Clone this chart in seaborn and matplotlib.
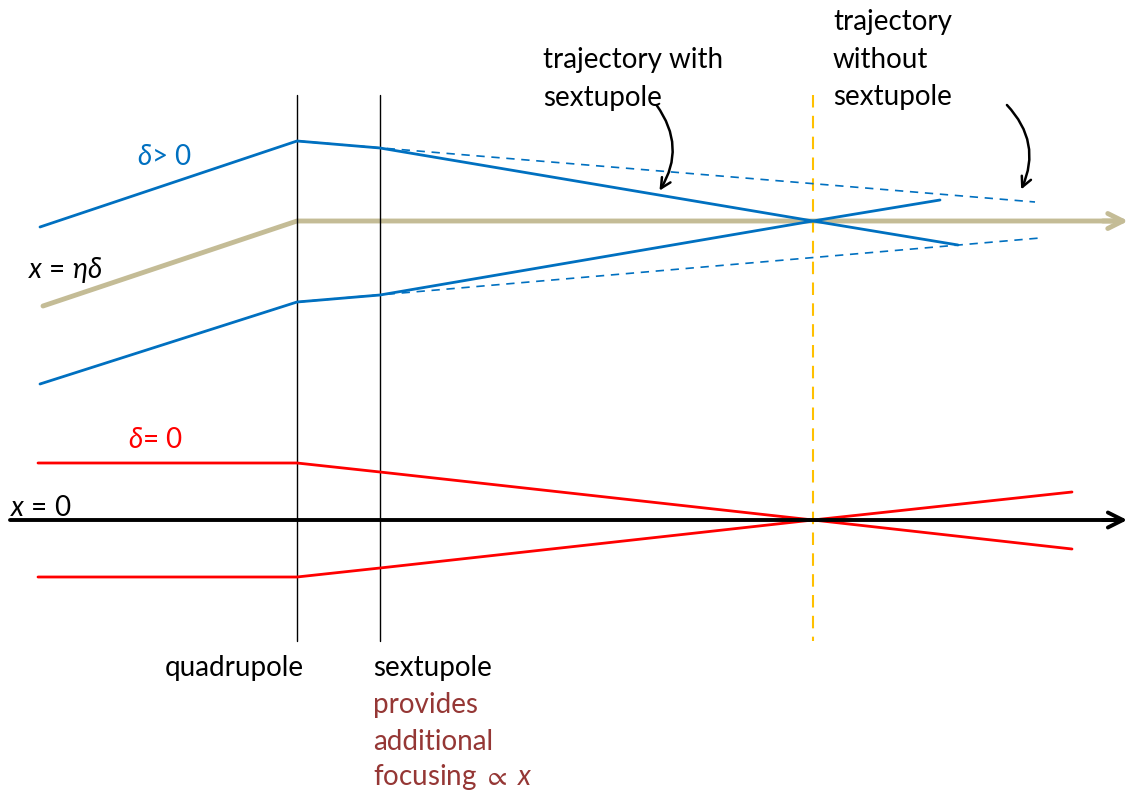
import matplotlib
matplotlib.use("Agg")
import matplotlib.pyplot as plt
import seaborn as sns
import pandas as pd

sns.set_theme(style="white")
plt.rcParams['font.family'] = ['Lato', 'DejaVu Sans']
plt.rcParams['mathtext.fontset'] = 'custom'
plt.rcParams['mathtext.it'] = 'Lato:italic'
plt.rcParams['mathtext.rm'] = 'Lato'
plt.rcParams['mathtext.fallback'] = 'stix'

W, H = 1132, 791

# element positions along beam (pixel-like diagram units)
quad_x = 297
sext_x = 380
focus_x = 813

# trajectories: (x points, y points)
blue_up_x = [40, 297, 380, 813, 958]
blue_up_y = [227, 141, 148, 221, 245]
blue_lo_x = [40, 297, 380, 813, 940]
blue_lo_y = [384, 302, 295, 221, 200]
blue_up_dash_x = [297, 1035]
blue_up_dash_y = [141, 202]
blue_lo_dash_x = [297, 1040]
blue_lo_dash_y = [302, 238]
tan_x = [43, 297, 1122]
tan_y = [306, 221, 221]
red_up_x = [38, 297, 380, 813, 1072]
red_up_y = [463, 463, 472, 520, 549]
red_lo_x = [38, 297, 380, 813, 1072]
red_lo_y = [577, 577, 568, 520, 492]
axis_x = [10, 1122]
axis_y = [520, 520]

BLUE = "#0070C0"
RED = "#FF0000"
TAN = "#C4BC96"
YEL = "#FFC000"
DRED = "#953735"

fig = plt.figure(figsize=(W / 100, H / 100), dpi=100)
ax = fig.add_axes([0, 0, 1, 1])
ax.set_xlim(0, W)
ax.set_ylim(H, 0)
ax.axis("off")

def seg(xs, ys, color, lw, ls="-", z=2):
    df = pd.DataFrame({"x": xs, "y": ys})
    sns.lineplot(data=df, x="x", y="y", sort=False, estimator=None, color=color,
                 linewidth=lw, linestyle=ls, ax=ax, zorder=z)

# vertical element lines
seg([quad_x, quad_x], [95, 641], "black", 1.0)
seg([sext_x, sext_x], [95, 641], "black", 1.0)
seg([focus_x, focus_x], [95, 641], YEL, 1.5, (0, (6, 4)))

# axis and tan line
seg(axis_x, axis_y, "black", 2.8, z=3)
seg(tan_x, tan_y, TAN, 3.5, z=1)
ax.annotate("", xy=(1130, 520), xytext=(1100, 520),
            arrowprops=dict(arrowstyle="->,head_length=0.9,head_width=0.45", color="black", lw=2.8))
ax.annotate("", xy=(1131, 221), xytext=(1100, 221),
            arrowprops=dict(arrowstyle="->,head_length=0.9,head_width=0.45", color=TAN, lw=3.5))

# blue trajectories
seg(blue_up_dash_x, blue_up_dash_y, BLUE, 1.2, (0, (5, 4)), z=3)
seg(blue_lo_dash_x, blue_lo_dash_y, BLUE, 1.2, (0, (5, 4)), z=3)
seg(blue_up_x, blue_up_y, BLUE, 2.0)
seg(blue_lo_x, blue_lo_y, BLUE, 2.0)

# red trajectories
seg(red_up_x, red_up_y, RED, 2.0)
seg(red_lo_x, red_lo_y, RED, 2.0)

fs = 20
ax.text(137, 157, r"$\delta$> 0", color=BLUE, fontsize=fs, va="center", ha="left")
ax.text(28, 270, r"$x$ = $\eta\delta$", color="black", fontsize=fs, va="center", ha="left")
ax.text(128, 440, r"$\delta$= 0", color=RED, fontsize=fs, va="center", ha="left")
ax.text(10, 508, r"$x$ = 0", color="black", fontsize=fs, va="center", ha="left")
ax.text(165, 668, "quadrupole", color="black", fontsize=fs, va="center", ha="left")
ax.text(373, 668, "sextupole", color="black", fontsize=fs, va="center", ha="left")
ax.text(373, 705, "provides", color=DRED, fontsize=fs, va="center", ha="left")
ax.text(373, 742, "additional", color=DRED, fontsize=fs, va="center", ha="left")
ax.text(373, 777, r"focusing $\propto$ $x$", color=DRED, fontsize=fs, va="center", ha="left")
ax.text(543, 60, "trajectory with", color="black", fontsize=fs, va="center", ha="left")
ax.text(543, 98, "sextupole", color="black", fontsize=fs, va="center", ha="left")
ax.text(833, 22, "trajectory", color="black", fontsize=fs, va="center", ha="left")
ax.text(833, 60, "without", color="black", fontsize=fs, va="center", ha="left")
ax.text(833, 97, "sextupole", color="black", fontsize=fs, va="center", ha="left")

# curved arrows
ax.annotate("", xy=(658, 193), xytext=(655, 103),
            arrowprops=dict(arrowstyle="->,head_length=0.6,head_width=0.3", color="black", lw=1.8,
                            connectionstyle="arc3,rad=-0.35"))
ax.annotate("", xy=(1020, 192), xytext=(1005, 103),
            arrowprops=dict(arrowstyle="->,head_length=0.6,head_width=0.3", color="black", lw=1.8,
                            connectionstyle="arc3,rad=-0.35"))

fig.savefig("out.png", dpi=100, facecolor="white")
